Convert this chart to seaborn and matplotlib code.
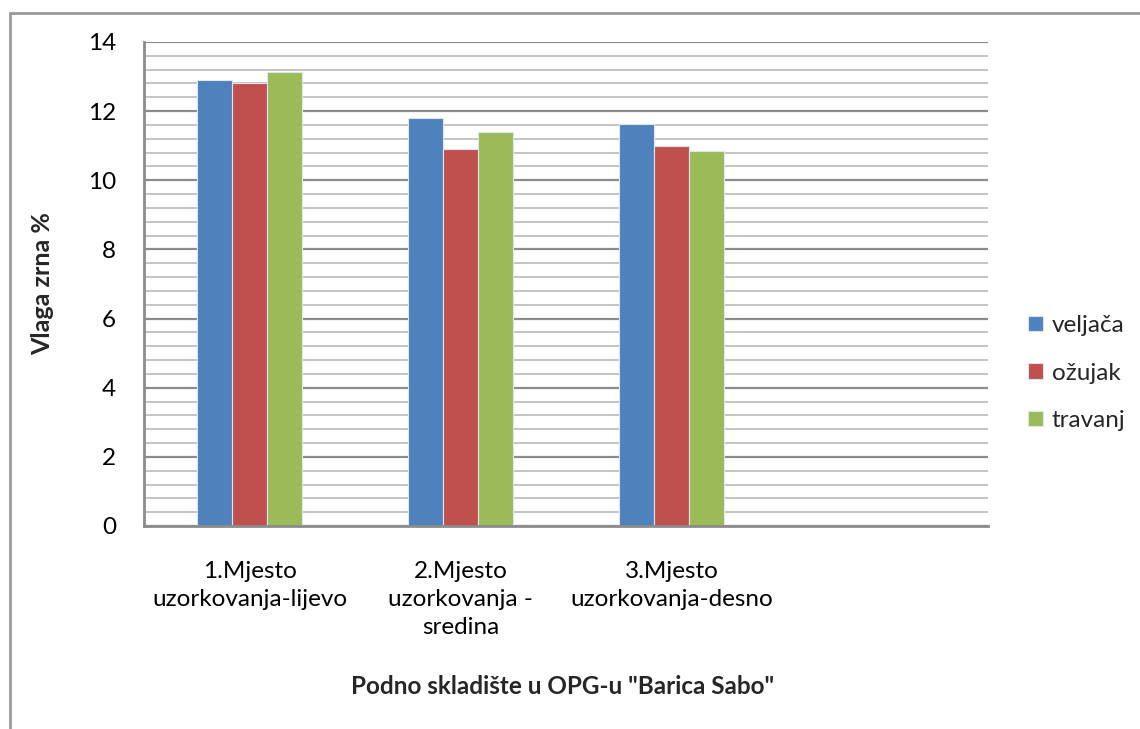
import numpy as np
import pandas as pd
import matplotlib
matplotlib.use("Agg")
import matplotlib.pyplot as plt
from matplotlib.ticker import MultipleLocator
from matplotlib.lines import Line2D
import seaborn as sns

# podaci
mjesta = ["1.Mjesto\nuzorkovanja-lijevo", "2.Mjesto\nuzorkovanja -\nsredina", "3.Mjesto\nuzorkovanja-desno"]
mjeseci = ["veljača", "ožujak", "travanj"]
veljaca = [12.90, 11.80, 11.64]
ozujak = [12.82, 10.90, 11.00]
travanj = [13.14, 11.41, 10.85]
boje = ["#4F81BD", "#C0504D", "#9BBB59"]

df = pd.DataFrame({
    "mjesto": mjesta * 3,
    "mjesec": [m for m in mjeseci for _ in mjesta],
    "vlaga": veljaca + ozujak + travanj,
})

sns.set_style("white")
plt.rcParams["font.family"] = ["Lato", "DejaVu Sans"]

fig = plt.figure(figsize=(11.4, 7.29), dpi=100)
ax = fig.add_axes([144 / 1140, 1 - 526 / 729, (988 - 144) / 1140, (526 - 42) / 729])

sns.barplot(data=df, x="mjesto", y="vlaga", hue="mjesec", order=mjesta + [""],
            hue_order=mjeseci, palette=boje, saturation=1, width=0.5, gap=0,
            edgecolor="#dce6f2", linewidth=0.8, ax=ax)

ax.set_ylim(0, 14)
ax.set_xlim(-0.5, 3.5)
ax.set_yticks(np.arange(0, 15, 2))
ax.yaxis.set_minor_locator(MultipleLocator(0.4))
ax.set_axisbelow(True)
ax.grid(which="major", axis="y", color="#8c8c8c", lw=1.6)
ax.grid(which="minor", axis="y", color="#c4c4c4", lw=1.4)
ax.tick_params(axis="y", which="major", length=8, width=1.5, color="#8c8c8c",
               labelsize=17.5, pad=12, labelcolor="black")
ax.tick_params(axis="y", which="minor", length=0)
ax.tick_params(axis="x", length=0, labelsize=17.5, pad=25, labelcolor="black")
for lbl in ax.get_xticklabels():
    lbl.set_linespacing(1.42)

for s in ["top", "right"]:
    ax.spines[s].set_visible(False)
for s in ["left", "bottom"]:
    ax.spines[s].set_color("#8c8c8c")
    ax.spines[s].set_linewidth(2)

ax.set_ylabel("Vlaga zrna %", fontsize=18, fontweight="bold")
ax.yaxis.set_label_coords(-0.106, 0.5)
ax.set_xlabel("")
fig.text(563 / 1140, 1 - 687 / 729, 'Podno skladište u OPG-u "Barica Sabo"',
         ha="center", va="center", fontsize=17.5, fontweight="bold")

ax.legend(title=None, loc="center left", bbox_to_anchor=(1.022, 0.316), frameon=False,
          fontsize=17.5, handlelength=0.6, handleheight=0.6, labelspacing=1.08,
          handletextpad=0.35)

# okvir slike
fig.add_artist(Line2D([10 / 1140, 10 / 1140], [0, 1 - 13 / 729], color="#999999", lw=2))
fig.add_artist(Line2D([10 / 1140, 1], [1 - 13 / 729, 1 - 13 / 729], color="#999999", lw=2))

fig.savefig("out.png", dpi=100)
